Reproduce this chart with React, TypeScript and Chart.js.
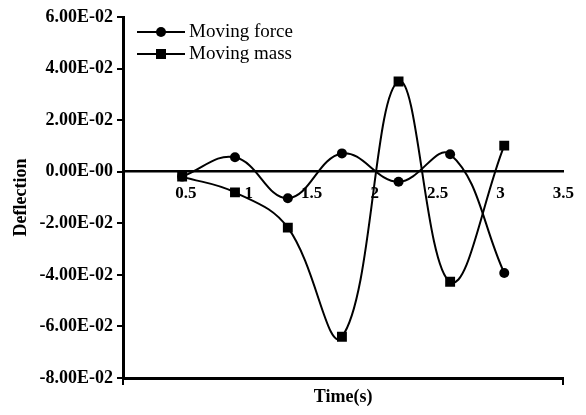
import React, { useEffect, useRef } from "react";
import { Chart, registerables } from "chart.js";

Chart.register(...registerables);

const timeValues = [0.47, 0.89, 1.31, 1.74, 2.19, 2.6, 3.03];
const movingForce = [-0.0019, 0.0056, -0.0103, 0.0071, -0.0039, 0.0068, -0.0393];
const movingMass = [-0.0019, -0.008, -0.0217, -0.064, 0.035, -0.0427, 0.0101];
const seriesLabels = ["Moving force", "Moving mass"];
const yTickLabels = [
  "-8.00E-02",
  "-6.00E-02",
  "-4.00E-02",
  "-2.00E-02",
  "0.00E-00",
  "2.00E-02",
  "4.00E-02",
  "6.00E-02",
];
const xTickLabels = ["", "0.5", "1", "1.5", "2", "2.5", "3", "3.5"];
const xTitle = "Time(s)";
const yTitle = "Deflection";

const FONT = "'Liberation Serif', 'Times New Roman', serif";

const insideLegend = {
  id: "insideLegend",
  afterDraw(chart: any) {
    const ctx = chart.ctx;
    const { left, top } = chart.chartArea;
    chart.data.datasets.forEach((ds: any, i: number) => {
      const y = top + 15 + i * 22;
      const x0 = left + 14;
      const x1 = x0 + 48;
      const cx = (x0 + x1) / 2;
      ctx.save();
      ctx.strokeStyle = "#000";
      ctx.lineWidth = 2;
      ctx.beginPath();
      ctx.moveTo(x0, y);
      ctx.lineTo(x1, y);
      ctx.stroke();
      ctx.fillStyle = "#000";
      if (ds.pointStyle === "rect") {
        ctx.fillRect(cx - 5, y - 5, 10, 10);
      } else {
        ctx.beginPath();
        ctx.arc(cx, y, 5, 0, Math.PI * 2);
        ctx.fill();
      }
      ctx.font = `19px ${FONT}`;
      ctx.textBaseline = "middle";
      ctx.textAlign = "left";
      ctx.fillText(ds.label, x1 + 4, y);
      ctx.restore();
    });
  },
};

export default function App() {
  const canvasRef = useRef<HTMLCanvasElement | null>(null);

  useEffect(() => {
    document.body.style.margin = "0";
    const canvas = canvasRef.current;
    if (!canvas) return;
    Chart.defaults.font.family = FONT;
    Chart.defaults.color = "#000";

    const chart = new Chart(canvas, {
      type: "line",
      data: {
        datasets: [
          {
            label: seriesLabels[0],
            data: timeValues.map((x, i) => ({ x, y: movingForce[i] })),
            borderColor: "#000",
            backgroundColor: "#000",
            borderWidth: 2,
            pointStyle: "circle",
            pointRadius: 5,
            pointBorderWidth: 0,
            tension: 0.4,
            fill: false,
          },
          {
            label: seriesLabels[1],
            data: timeValues.map((x, i) => ({ x, y: movingMass[i] })),
            borderColor: "#000",
            backgroundColor: "#000",
            borderWidth: 2,
            pointStyle: "rect",
            pointRadius: 7,
            pointBorderWidth: 0,
            tension: 0.4,
            fill: false,
          },
        ],
      },
      options: {
        responsive: false,
        animation: false,
        layout: { padding: { top: 17, right: 20, left: 0, bottom: 0 } },
        plugins: {
          legend: { display: false },
          tooltip: { enabled: false },
        },
        scales: {
          x: {
            type: "linear",
            position: { y: 0 } as any,
            min: 0,
            max: 3.5,
            grid: { display: true, drawOnChartArea: false, drawTicks: false },
            border: { display: true, color: "#000", width: 2.5 },
            ticks: {
              stepSize: 0.5,
              padding: 12,
              maxRotation: 0,
              autoSkip: false,
              font: { size: 17, weight: "bold", family: FONT },
              color: "#000",
              callback: (_v: any, i: number) => xTickLabels[i],
            },
          },
          x2: {
            type: "linear",
            position: "bottom",
            axis: "x",
            min: 0,
            max: 3.5,
            grid: {
              drawOnChartArea: false,
              drawTicks: true,
              tickLength: 7,
              color: "#000",
              lineWidth: 2,
            },
            border: { display: true, color: "#000", width: 3 },
            ticks: { stepSize: 3.5, display: false },
            title: {
              display: true,
              text: xTitle,
              color: "#000",
              font: { size: 18, weight: "bold", family: FONT },
              padding: { top: 0, bottom: 7 },
            },
            afterFit: (scale: any) => {
              scale.height = 37;
            },
          },
          y: {
            type: "linear",
            position: "left",
            min: -0.08,
            max: 0.06,
            grid: {
              drawOnChartArea: false,
              drawTicks: true,
              tickLength: 6,
              color: "#000",
              lineWidth: 2,
            },
            border: { display: true, color: "#000", width: 3 },
            ticks: {
              stepSize: 0.02,
              padding: 4,
              font: { size: 18, weight: "bold", family: FONT },
              color: "#000",
              callback: (_v: any, i: number) => yTickLabels[i],
            },
            title: {
              display: true,
              text: yTitle,
              color: "#000",
              font: { size: 18, weight: "bold", family: FONT },
              padding: { top: 11, bottom: 0 },
            },
            afterFit: (scale: any) => {
              scale.width = 123;
            },
          },
        },
      },
      plugins: [insideLegend],
    });

    return () => {
      chart.destroy();
    };
  }, []);

  return (
    <div style={{ width: 586, height: 415 }}>
      <canvas ref={canvasRef} width={586} height={415} style={{ width: 586, height: 415, display: "block" }} />
    </div>
  );
}
